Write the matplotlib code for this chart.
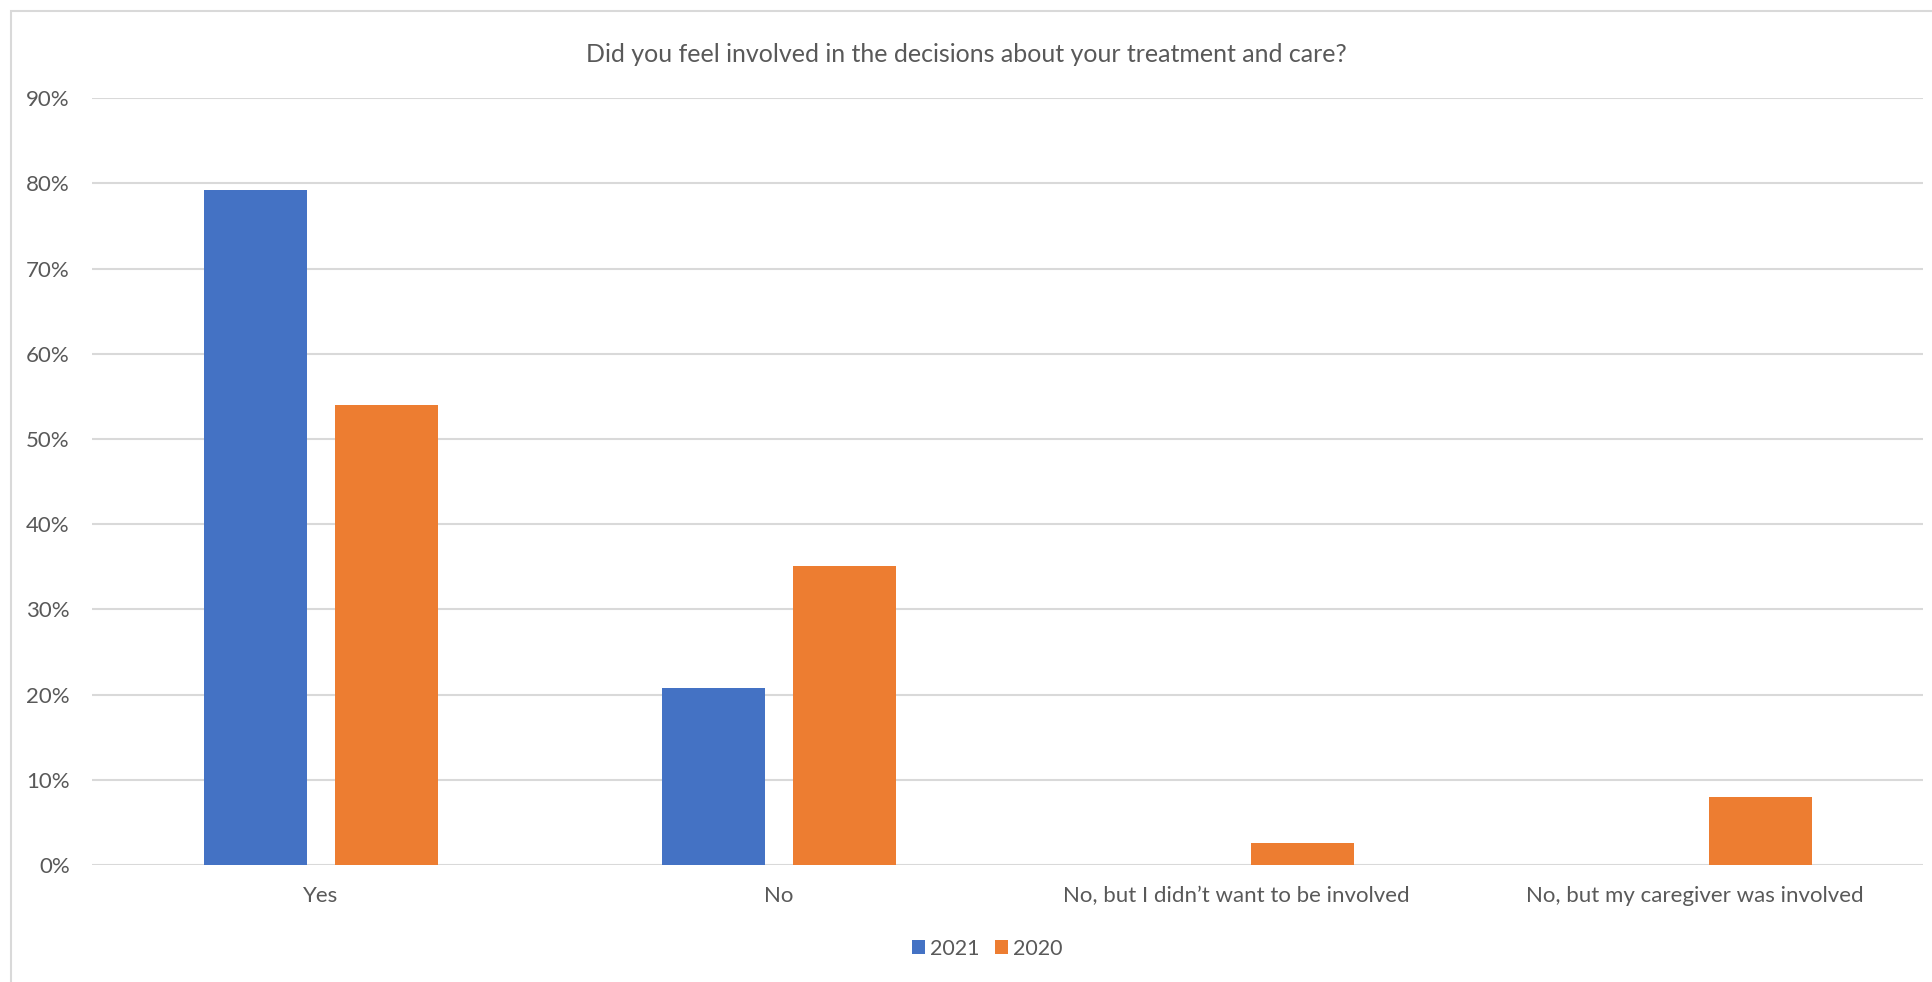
import matplotlib
matplotlib.use("Agg")
import matplotlib.pyplot as plt
from matplotlib.patches import Rectangle
import numpy as np

categories = ["Yes", "No", "No, but I didn\u2019t want to be involved", "No, but my caregiver was involved"]
series_names = ["2021", "2020"]
values_2021 = [0.792, 0.208, 0.0, 0.0]
values_2020 = [0.540, 0.351, 0.026, 0.080]
yticks = [0.0, 0.1, 0.2, 0.3, 0.4, 0.5, 0.6, 0.7, 0.8, 0.9]
title = "Did you feel involved in the decisions about your treatment and care?"

plt.rcParams['font.family'] = ['Lato', 'DejaVu Sans']
text_color = "#595959"

fig = plt.figure(figsize=(19.32, 9.82), dpi=100)
ax = fig.add_axes([0.0476, 0.119, 0.9480, 0.781])

x = np.arange(len(categories))
bw = 0.225
off = 0.143
ax.bar(x - off, values_2021, bw, color="#4472C4", label=series_names[0], zorder=3)
ax.bar(x + off, values_2020, bw, color="#ED7D31", label=series_names[1], zorder=3)

ax.set_xlim(-0.5, len(categories) - 0.5)
ax.set_ylim(0, 0.9)
ax.set_yticks(yticks)
ax.set_yticklabels([f"{int(round(t*100))}%" for t in yticks])
ax.set_xticks(x)
ax.set_xticklabels(categories)
ax.grid(axis="y", color="#D9D9D9", linewidth=1.5, zorder=0)
for s in ax.spines.values():
    s.set_visible(False)
ax.tick_params(axis="both", length=0, labelsize=16, labelcolor=text_color)
ax.tick_params(axis="y", pad=16)
ax.tick_params(axis="x", pad=15)

fig.text(0.5, 0.945, title, ha="center", va="center", fontsize=18, color=text_color)

leg = fig.legend(loc="center", bbox_to_anchor=(0.511, 0.034), ncol=2, frameon=False,
                 fontsize=15.5, handlelength=0.6, handleheight=0.6, handletextpad=0.25,
                 columnspacing=0.7)
for t in leg.get_texts():
    t.set_color(text_color)

# chart-area border (only top and left edges are inside the image)
fig.patches.append(Rectangle((0.0055, -0.05), 1.1, 1.0388, transform=fig.transFigure,
                             fill=False, edgecolor="#D9D9D9", linewidth=1.5))

fig.savefig("out.png", dpi=100)
